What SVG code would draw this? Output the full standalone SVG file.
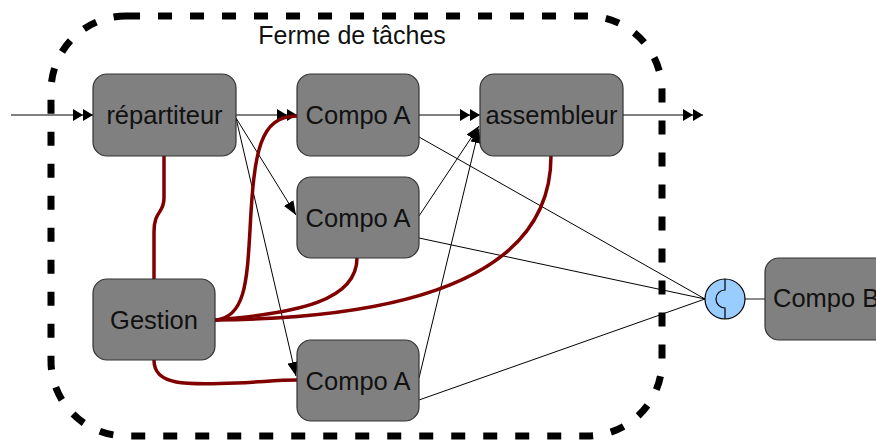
<svg xmlns="http://www.w3.org/2000/svg" width="876" height="443" viewBox="0 0 876 443">
<style>
.box{fill:#808080;stroke:#333;stroke-width:1.2}
.lbl{font-family:"Liberation Sans",Arial,sans-serif;font-size:25.5px;fill:#111;text-anchor:middle}
.ln{fill:none;stroke:#000;stroke-width:1}
.red{fill:none;stroke:#800000;stroke-width:3.5}
</style>
<defs>
<marker id="dbl" markerUnits="userSpaceOnUse" viewBox="0 0 20 12" refX="20" refY="6" markerWidth="20" markerHeight="12" orient="auto">
<path d="M0,0 L10,6 L0,12 Z M10,0 L20,6 L10,12 Z" fill="#000"/>
</marker>
<marker id="sgl" markerUnits="userSpaceOnUse" viewBox="0 0 14 11" refX="14" refY="5.5" markerWidth="14" markerHeight="11" orient="auto">
<path d="M0,0 L14,5.5 L0,11 Z" fill="#000"/>
</marker>
</defs>
<rect x="51" y="16" width="611" height="420" rx="75" ry="75" fill="none" stroke="#000" stroke-width="7" stroke-dasharray="14 18"/>
<text x="352" y="44" class="lbl" style="font-size:25px">Ferme de tâches</text>
<g id="connectors">
<line class="ln" x1="11" y1="115" x2="93" y2="115" marker-end="url(#dbl)"/>
<line class="ln" x1="236" y1="115" x2="297" y2="115" marker-end="url(#dbl)"/>
<line class="ln" x1="236" y1="118" x2="296" y2="215" marker-end="url(#sgl)"/>
<line class="ln" x1="236" y1="118" x2="296" y2="376" marker-end="url(#sgl)"/>
<line class="ln" x1="419" y1="115" x2="480" y2="115" marker-end="url(#dbl)"/>
<line class="ln" x1="419" y1="216" x2="479" y2="126" marker-end="url(#sgl)"/>
<line class="ln" x1="419" y1="378" x2="479" y2="129" marker-end="url(#sgl)"/>
<line class="ln" x1="623" y1="115" x2="703" y2="115" marker-end="url(#dbl)"/>
<line class="ln" x1="419" y1="137" x2="705" y2="299"/>
<line class="ln" x1="419" y1="238" x2="705" y2="299"/>
<line class="ln" x1="419" y1="400" x2="705" y2="299"/>
<line x1="745" y1="299" x2="765" y2="299" stroke="#666" stroke-width="1.5"/>
<path class="red" d="M164,156 L164,198 C164,214 154,210 154,232 L154,279"/>
<path class="red" d="M215,320 C245,318 247,282 250,230 C254,150 260,116 297,116"/>
<path class="red" d="M215,320 C300,313 357,300 357,258"/>
<path class="red" d="M215,320 C420,318 551,272 551,156"/>
<path class="red" d="M154,360 C154,386 186,385 236,383 C262,382 276,380 297,380"/>
</g>
<g id="repartiteur"><rect class="box" x="93" y="74" width="143" height="82" rx="14"/><text class="lbl" x="164.5" y="124">répartiteur</text></g>
<g id="compoA1"><rect class="box" x="297" y="74" width="122" height="82" rx="14"/><text class="lbl" x="358" y="124">Compo A</text></g>
<g id="assembleur"><rect class="box" x="480" y="74" width="143" height="82" rx="14"/><text class="lbl" x="551.5" y="124">assembleur</text></g>
<g id="compoA2"><rect class="box" x="297" y="177" width="122" height="81" rx="14"/><text class="lbl" x="358" y="227">Compo A</text></g>
<g id="gestion"><rect class="box" x="93" y="279" width="122" height="81" rx="14"/><text class="lbl" x="154" y="329">Gestion</text></g>
<g id="compoA3"><rect class="box" x="297" y="340" width="122" height="81" rx="14"/><text class="lbl" x="358" y="390">Compo A</text></g>
<g id="port"><circle cx="725" cy="299" r="20" fill="#99ccff" stroke="#000" stroke-width="1.2"/><path d="M725,279 L725,290 A9,9 0 0 0 725,308 L725,319" fill="none" stroke="#000" stroke-width="1.2"/></g>
<g id="compoB"><rect class="box" x="765" y="258" width="130" height="82" rx="14"/><text class="lbl" x="773" y="307" style="text-anchor:start">Compo B</text></g>
</svg>
